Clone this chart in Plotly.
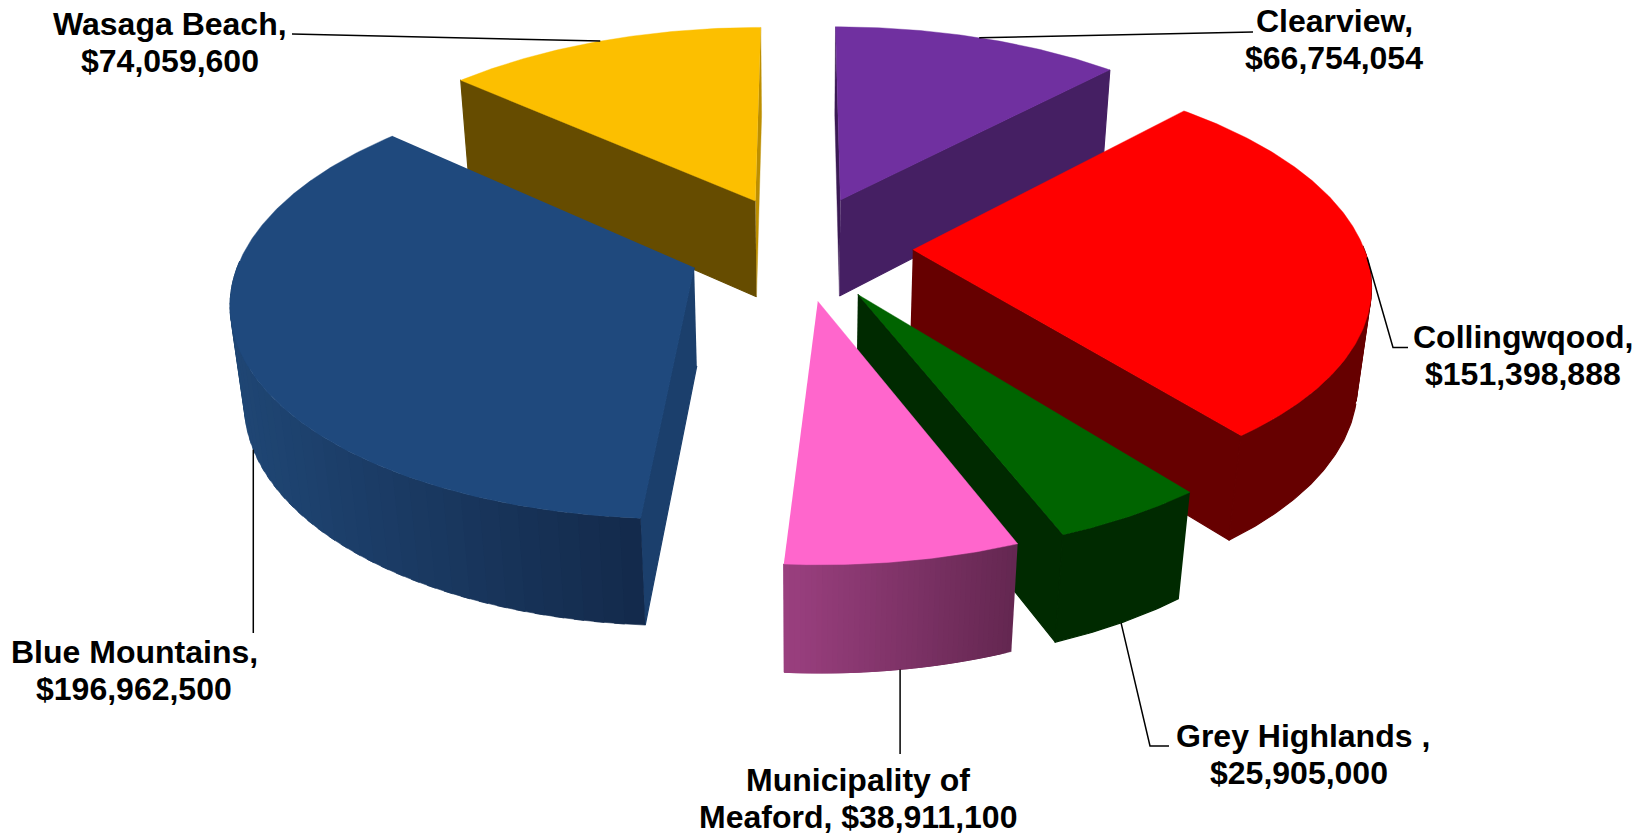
import math
import plotly.graph_objects as go

# Slice data, clockwise from twelve o'clock
categories = ["Clearview", "Collingwqood", "Grey Highlands ", "Municipality of Meaford", "Blue Mountains", "Wasaga Beach"]
values = [66754054, 151398888, 25905000, 38911100, 196962500, 74059600]
label_templates = [
    "Clearview,|{}", "Collingwqood,|{}", "Grey Highlands ,|{}",
    "Municipality of|Meaford, {}", "Blue Mountains,|{}", "Wasaga Beach,|{}",
]

# Face colours for each slice
top_colors = ["#7030A0", "#FF0000", "#006400", "#FF66CC", "#1F497D", "#FCBF00"]
rim_left = ["#451F63", "#660000", "#002A00", "#993F7E", "#1F4674", "#664C00"]
rim_right = ["#451F63", "#660000", "#002A00", "#62264F", "#13294A", "#664C00"]
wall_start_colors = ["#3A1A54", "#660000", "#002A00", "#8A3A72", "#1B3F6C", "#664C00"]
wall_end_colors = ["#451F63", "#660000", "#002A00", "#8A3A72", "#1B3F6C", "#BD8F00"]
thin_walls = ["#3A1A54", "#BD8F00"]

# Perspective camera for the tilted disc (pixel canvas)
CX, CY = 800.0, 247.5
A, B, H = 451.0, 210.0, 100.0
K, M = 0.14, 0.025
EXPLODE = 0.25
W, HT = 1651, 834
BANDS = 26
FOLD_STEP = 2

# Ground-plane position of the eye, used to decide which faces are turned towards it
EYE_DEPTH = -1 / (K * H / B + M)
EYE_Y = EYE_DEPTH * H / B


def project(x, y, d=0.0):
    w = 1 + K * y + M * d
    return CX + A * x / w, CY + (-B * y + H * d) / w


def disc(t, r, mid):
    ox = EXPLODE * math.sin(mid)
    oy = EXPLODE * math.cos(mid)
    return ox + r * math.sin(t), oy + r * math.cos(t)


def mix(c1, c2, f):
    a = [int(c1[i:i + 2], 16) for i in (1, 3, 5)]
    b = [int(c2[i:i + 2], 16) for i in (1, 3, 5)]
    return "#%02x%02x%02x" % tuple(round(p + (q - p) * f) for p, q in zip(a, b))


def poly(fig, pts, color, line=1.2):
    fig.add_trace(go.Scatter(
        x=[p[0] for p in pts], y=[p[1] for p in pts],
        mode="lines", fill="toself", fillcolor=color,
        line=dict(color=color, width=line), hoverinfo="skip", showlegend=False,
    ))


def faces_eye(nx, ny, px, py):
    return nx * (0 - px) + ny * (EYE_Y - py) > 0


def rim_band(fig, seg, mid, color, line):
    edge = [project(*disc(t, 1, mid)) for t in seg]
    low = [project(*disc(t, 1, mid), 1) for t in reversed(seg)]
    poly(fig, edge + low, color, line)


total = sum(values)
slices = []
start = 0.0
for i, v in enumerate(values):
    sweep = 2 * math.pi * v / total
    slices.append((i, start, start + sweep, start + sweep / 2))
    start += sweep

fig = go.Figure()

# Paint far slices first so that near ones overlap them
for i, t0, t1, mid in sorted(slices, key=lambda s: -math.cos(s[3])):
    apex = disc(0, 0, mid)
    walls = [
        (t0, (-math.cos(t0), math.sin(t0)), wall_start_colors[i]),
        (t1, (math.cos(t1), -math.sin(t1)), wall_end_colors[i]),
    ]
    walls.sort(key=lambda w: -disc(w[0], 1, mid)[1])
    for t, n, color in walls:
        if faces_eye(n[0], n[1], *apex):
            rim = disc(t, 1, mid)
            width = 0.4 if color in thin_walls else 1.2
            poly(fig, [project(*apex), project(*rim), project(*rim, 1), project(*apex, 1)], color, width)

    n = max(8, int((t1 - t0) / 0.01))
    ts = [t0 + (t1 - t0) * j / n for j in range(n + 1)]

    # Outer rim: the near half, shaded left to right
    shown = [t for t in ts if math.cos(t) < 0.03]
    facing = [t for t in shown if faces_eye(math.sin(t), math.cos(t), *disc(t, 1, mid))]
    if shown:
        xs = [project(*disc(t, 1, mid))[0] for t in shown]
        lo, hi = min(xs), max(xs)

        def shade(t):
            return mix(rim_left[i], rim_right[i], (project(*disc(t, 1, mid))[0] - lo) / max(hi - lo, 1))

        # Crescent beyond the tangent line: short strips, since a single band would fold over itself
        crescent = [t for t in shown if t not in facing]
        for a in range(0, max(len(crescent) - 1, 0), FOLD_STEP):
            seg = crescent[a:a + FOLD_STEP + 1]
            rim_band(fig, seg, mid, shade(seg[0]), 1.0)

        if rim_left[i] == rim_right[i]:
            rim_band(fig, facing, mid, rim_left[i], 1.2)
        elif facing:
            step = max(1, len(facing) // BANDS)
            for a in range(0, len(facing) - 1, step):
                seg = facing[a:a + step + 3]
                rim_band(fig, seg, mid, shade(seg[len(seg) // 2]), 0.6)

    top = [project(*apex)] + [project(*disc(t, 1, mid)) for t in ts]
    poly(fig, top, top_colors[i], line=0.4)

# Leader lines: start on the slice (fraction along rim, depth), then on to the label.
# A None x keeps the line vertical below its starting point.
leader_spec = [
    (0.50, 0.0, [(1253, 32)]),
    (0.495, 0.0, [(1393, 347.5), (1408, 347.5)]),
    (0.50, 1.0, [(1150, 746), (1169, 746)]),
    (0.503, 1.0, [(None, 754)]),
    (0.51, 1.0, [(None, 633)]),
    (0.495, 0.0, [(292, 34)]),
]
for (i, t0, t1, mid), (frac, depth, tail) in zip(slices, leader_spec):
    head = project(*disc(t0 + (t1 - t0) * frac, 1, mid), depth)
    pts = [head] + [(head[0] if x is None else x, y) for x, y in tail]
    fig.add_trace(go.Scatter(x=[p[0] for p in pts], y=[p[1] for p in pts], mode="lines",
                             line=dict(color="black", width=1.5), hoverinfo="skip", showlegend=False))

# Two-line labels, each line placed separately for tighter leading
label_pos = [(1334, 39.5), (1523, 355), (1299, 754), (858, 798), (134, 670), (170, 42)]
first_line_nudge = [0, 0, 4, 0, 0, 0]
LEADING = 37
for tpl, v, (lx, ly), nudge in zip(label_templates, values, label_pos, first_line_nudge):
    first, second = tpl.format(f"${v:,}").split("|")
    for text, dx, off in ((first, nudge, -LEADING / 2), (second, 0, LEADING / 2)):
        fig.add_annotation(x=lx + dx, y=ly + off, text=text, showarrow=False, align="center",
                           xanchor="center", yanchor="middle",
                           font=dict(family="Liberation Sans", size=32, color="black", weight="bold"))

fig.update_xaxes(range=[0, W], visible=False, fixedrange=True)
fig.update_yaxes(range=[HT, 0], visible=False, fixedrange=True)
fig.update_layout(width=W, height=HT, margin=dict(l=0, r=0, t=0, b=0), plot_bgcolor="white",
                  paper_bgcolor="white", showlegend=False)
fig.write_html("out.html")
